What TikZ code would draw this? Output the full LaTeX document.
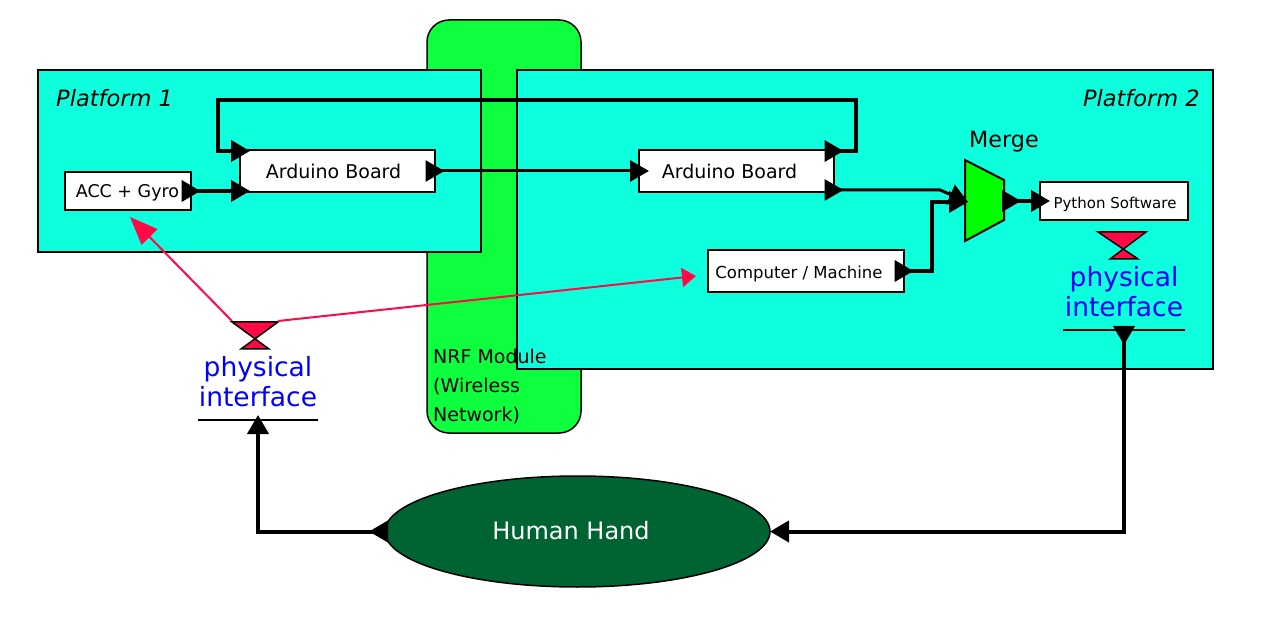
\documentclass[tikz,border=0pt]{standalone}
\usepackage{fontspec}
\setmainfont{DejaVu Sans}
\usetikzlibrary{arrows.meta, shapes.geometric}
\definecolor{platcol}{RGB}{13,255,222}
\definecolor{nrfcol}{RGB}{13,255,62}
\definecolor{handcol}{RGB}{0,100,50}
\definecolor{redcol}{RGB}{255,10,70}
\tikzstyle{boxnode}=[draw, fill=white, line width=2pt, inner sep=0pt, outer sep=0pt]
\tikzstyle{platform}=[draw, fill=platcol, line width=2pt]
\tikzstyle{link}=[line width=4pt, {Triangle[reversed,length=19pt,width=21pt]}-{Triangle[length=19pt,width=21pt]}, shorten <=-9.5pt, shorten >=-10pt]
\tikzstyle{redlink}=[redcol, line width=2pt]
\tikzstyle{hglass}=[draw, fill=redcol, line width=1.5pt]
\tikzstyle{ifacetext}=[blue, font=\fontsize{26.5}{30}\selectfont, align=center, inner sep=0pt]

\begin{document}
\begin{tikzpicture}[x=1pt, y=-1pt]
\useasboundingbox (0,0) rectangle (1264,628);
% Wireless module behind the platforms
    \draw[fill=nrfcol, line width=1.5pt, rounded corners=22pt] (427,20) rectangle (581,433);
% Platforms
    \draw[platform] (38,70) rectangle (481,252);
    \draw[platform] (517,70) rectangle (1213,369);
    \node[anchor=west, inner sep=0pt, font=\fontsize{22.5}{26}\selectfont\itshape] (platA) at (56,98) {Platform 1};
    \node[anchor=east, inner sep=0pt, font=\fontsize{22.5}{26}\selectfont\itshape] (platB) at (1200,98) {Platform 2};
    \node[anchor=north west, inner sep=0pt, align=left, font=\fontsize{19}{29}\selectfont] (nrf) at (433,348.5) {NRF Module\\(Wireless\\Network)};
% Boxes
    \node[boxnode, minimum width=126pt, minimum height=38pt, text height=13pt, text depth=0pt, font=\fontsize{17.5}{20}\selectfont] (acc) at (128,191) {ACC + Gyro\hspace*{1pt}};
    \node[boxnode, minimum width=195pt, minimum height=42pt, font=\fontsize{19}{22}\selectfont] (ardA) at (337.5,171) {Arduino Board\hspace*{8pt}};
    \node[boxnode, minimum width=195pt, minimum height=42pt, font=\fontsize{19}{22}\selectfont] (ardB) at (736.5,171) {Arduino Board\hspace*{14pt}};
    \node[boxnode, minimum width=196pt, minimum height=42pt, text height=16pt, text depth=0pt, font=\fontsize{16.5}{20}\selectfont] (comp) at (806,271) {Computer / Machine\hspace*{14pt}};
    \node[boxnode, minimum width=148pt, minimum height=38pt, text height=15pt, text depth=0pt, font=\fontsize{15}{18}\selectfont] (python) at (1114,201) {\hspace*{2pt}Python Software};
% Merge
    \draw[fill=green, line width=2pt] (965,160) -- (1004,180) -- (1004,220) -- (965,241) -- cycle;
    \coordinate (mergeIn) at (968,202);
    \coordinate (mergeOut) at (1011.5,201);
    \node[font=\fontsize{22.3}{26}\selectfont, inner sep=0pt] (mergeText) at (1004,142) {Merge};
% Hand
    \node[draw, fill=handcol, ellipse, line width=1.5pt, outer sep=0pt, minimum width=385pt, minimum height=111pt, inner sep=0pt, text=white, font=\fontsize{24}{28}\selectfont] (hand) at (577.5,531.5) {\raisebox{1.5pt}{\hspace*{-13pt}Human Hand}};
% Physical interfaces
    \draw[hglass] (232,322) -- (278,322) -- (241,349) -- (269,349) -- cycle;
    \coordinate (glassAl) at (232,321);
    \coordinate (glassAr) at (278,321);
    \node[ifacetext] (ifaceA) at (258,382) {physical\\interface};
    \coordinate (ifaceAin) at (258,420);
    \draw[line width=2pt] (198,420) -- (318,420);
    \draw[hglass] (1098,232) -- (1146,232) -- (1110,259) -- (1138,259) -- cycle;
    \node[ifacetext] (ifaceB) at (1124,292) {physical\\interface};
    \coordinate (ifaceBin) at (1124,330);
    \draw[line width=2pt] (1063,330) -- (1185,330);
% Signal paths
    \draw[link] (acc.east) -- (acc.east -| ardA.west);
    \draw[link, line width=3pt] (ardA.east) -- (ardB.west);
    \draw[link] ([yshift=-1pt]ardB.north east) -- ++(22,0) -- ++(0,-51) -- ++(-638,0) -- ++(0,51) -- ([yshift=-1pt]ardA.north west);
    \draw[link, line width=3pt, shorten >=0pt] ([yshift=2pt]ardB.south east) -- ++(106,0) -- (mergeIn);
    \draw[link, shorten >=0pt] (comp.east) -- ++(28,0) -- ++(0,-69) -- (mergeIn);
    \draw[link] (mergeOut) -- (python.west |- mergeOut);
% Hand to interfaces
    \draw[link, shorten <=-3pt, shorten >=-5pt] (hand.west) -| (ifaceAin);
    \draw[link, shorten <=-4pt, shorten >=0pt] (ifaceBin) |- (hand.east);
% Red arrows
    \coordinate (accIn) at (130,217);
    \coordinate (compIn) at (696,276);
    \draw[redlink, -{Triangle[length=28pt,width=22pt]}] (glassAl) -- (accIn);
    \draw[redlink, -{Triangle[length=14pt,width=19pt]}] (glassAr) -- (compIn);
\end{tikzpicture}
\end{document}
